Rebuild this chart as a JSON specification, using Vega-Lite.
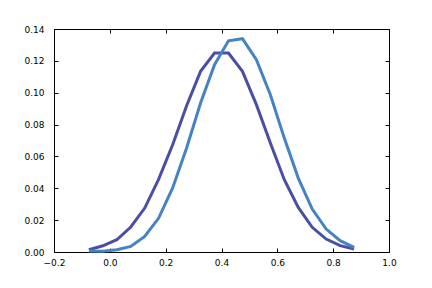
{
  "$schema": "https://vega.github.io/schema/vega-lite/v6.json",
  "width": 335,
  "height": 223,
  "autosize": {"type": "none"},
  "padding": {"left": 54, "top": 29, "right": 43, "bottom": 36},
  "background": "white",
  "config": {
    "view": {"stroke": "black", "strokeWidth": 1},
    "axis": {
      "grid": false, "domain": false, "tickColor": "black", "tickSize": -4, "tickWidth": 1,
      "labelFont": "DejaVu Sans", "labelFontSize": 9, "labelColor": "black",
      "labelFlush": false, "labelOverlap": false, "title": null
    }
  },
  "data": {"values": [
    {"x": -0.075, "s": "a", "y": 0.0014}, {"x": -0.025, "s": "a", "y": 0.0039}, {"x": 0.025, "s": "a", "y": 0.0077},
    {"x": 0.075, "s": "a", "y": 0.0157}, {"x": 0.125, "s": "a", "y": 0.0276}, {"x": 0.175, "s": "a", "y": 0.0458},
    {"x": 0.225, "s": "a", "y": 0.0673}, {"x": 0.275, "s": "a", "y": 0.0918}, {"x": 0.325, "s": "a", "y": 0.1134},
    {"x": 0.375, "s": "a", "y": 0.1249}, {"x": 0.425, "s": "a", "y": 0.1249}, {"x": 0.475, "s": "a", "y": 0.1134},
    {"x": 0.525, "s": "a", "y": 0.0925}, {"x": 0.575, "s": "a", "y": 0.0684}, {"x": 0.625, "s": "a", "y": 0.0454},
    {"x": 0.675, "s": "a", "y": 0.0280}, {"x": 0.725, "s": "a", "y": 0.0155}, {"x": 0.775, "s": "a", "y": 0.0081},
    {"x": 0.825, "s": "a", "y": 0.0040}, {"x": 0.875, "s": "a", "y": 0.0019},
    {"x": -0.075, "s": "b", "y": 0.0006}, {"x": -0.025, "s": "b", "y": 0.0005}, {"x": 0.025, "s": "b", "y": 0.0014},
    {"x": 0.075, "s": "b", "y": 0.0035}, {"x": 0.125, "s": "b", "y": 0.0098}, {"x": 0.175, "s": "b", "y": 0.0213},
    {"x": 0.225, "s": "b", "y": 0.0402}, {"x": 0.275, "s": "b", "y": 0.0653}, {"x": 0.325, "s": "b", "y": 0.0935},
    {"x": 0.375, "s": "b", "y": 0.1176}, {"x": 0.425, "s": "b", "y": 0.1326}, {"x": 0.475, "s": "b", "y": 0.1339},
    {"x": 0.525, "s": "b", "y": 0.1207}, {"x": 0.575, "s": "b", "y": 0.0987}, {"x": 0.625, "s": "b", "y": 0.0715},
    {"x": 0.675, "s": "b", "y": 0.0464}, {"x": 0.725, "s": "b", "y": 0.0270}, {"x": 0.775, "s": "b", "y": 0.0144},
    {"x": 0.825, "s": "b", "y": 0.0071}, {"x": 0.875, "s": "b", "y": 0.0029}
  ]},
  "resolve": {"axis": {"x": "independent", "y": "independent"}},
  "layer": [
    {
      "mark": {"type": "line", "strokeWidth": 3},
      "encoding": {
        "x": {"field": "x", "type": "quantitative", "scale": {"domain": [-0.2, 1.0], "nice": false, "zero": false},
              "axis": {"orient": "bottom", "values": [-0.2, 0, 0.2, 0.4, 0.6, 0.8, 1.0], "format": ".1f", "labelPadding": 10}},
        "y": {"field": "y", "type": "quantitative", "scale": {"domain": [0, 0.14], "nice": false},
              "axis": {"orient": "left", "values": [0, 0.02, 0.04, 0.06, 0.08, 0.1, 0.12, 0.14], "format": ".2f", "labelPadding": 14}},
        "color": {"field": "s", "type": "nominal", "scale": {"domain": ["a", "b"], "range": ["#4b4fa4", "#4583c3"]}, "legend": null}
      }
    },
    {
      "mark": {"type": "line", "strokeWidth": 0, "opacity": 0},
      "encoding": {
        "x": {"field": "x", "type": "quantitative",
              "axis": {"orient": "top", "values": [-0.2, 0, 0.2, 0.4, 0.6, 0.8, 1.0], "labels": false}},
        "y": {"field": "y", "type": "quantitative",
              "axis": {"orient": "right", "values": [0, 0.02, 0.04, 0.06, 0.08, 0.1, 0.12, 0.14], "labels": false}},
        "detail": {"field": "s"}
      }
    }
  ]
}
